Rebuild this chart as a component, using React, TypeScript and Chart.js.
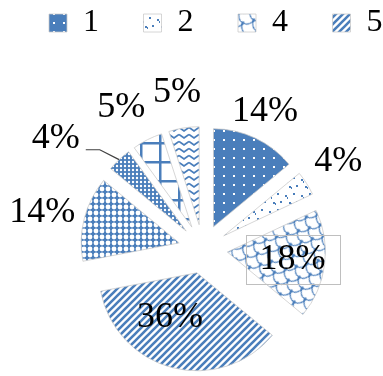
import React, { useEffect, useRef } from 'react';
import { Chart, registerables } from 'chart.js';

Chart.register(...registerables);

// ---- data ----
const categories = ['1', '2', '4', '5', '6', '7', '8', '9'];
const shares = [14, 4, 18, 36, 14, 4, 5, 5];
const legendShown = 4; // only the first four entries are visible in the reference

// ---- style ----
const BLUE = '#4a7ebb';
const FONT = '"Liberation Serif", "Times New Roman", serif';
const EXPLODE = 24.6;
const RADIUS = 98;
const labelRadius = [1.29, 1.39, 0.67, 0.53, 1.43, 1.63, 1.42, 1.37];
const labelTurn = [-1.2, -0.5, -0.3, 16.9, -2.1, -11.5, -3.5, -0.5];
const boxedLabel = 2;
const leaderLabel = 5;

function tile(w: number, h: number, draw: (c: CanvasRenderingContext2D) => void) {
  const cv = document.createElement('canvas');
  cv.width = w;
  cv.height = h;
  const c = cv.getContext('2d') as CanvasRenderingContext2D;
  draw(c);
  return cv;
}

function makePatterns(ctx: CanvasRenderingContext2D): (CanvasPattern | string)[] {
  const pat = (cv: HTMLCanvasElement, rot = 0) => {
    const p = ctx.createPattern(cv, 'repeat') as CanvasPattern;
    if (rot) p.setTransform(new DOMMatrix().rotate(rot));
    return p;
  };
  const p1 = pat(tile(10, 9, (c) => {
    c.fillStyle = BLUE; c.fillRect(0, 0, 10, 9);
    c.fillStyle = '#fff'; c.fillRect(4, 4, 2, 2);
  }));
  const p2 = pat(tile(16, 16, (c) => {
    c.fillStyle = '#fff'; c.fillRect(0, 0, 16, 16);
    c.fillStyle = BLUE;
    c.fillRect(2, 3, 2, 2); c.fillRect(4, 5, 1, 2);
    c.fillRect(10, 1, 2, 2);
    c.fillRect(6, 10, 2, 2); c.fillRect(8, 11, 1, 2);
    c.fillRect(13, 9, 2, 2);
  }));
  const p3 = pat(tile(16, 16, (c) => {
    c.fillStyle = '#fff'; c.fillRect(0, 0, 16, 16);
    c.strokeStyle = BLUE; c.lineWidth = 1.2;
    c.beginPath(); c.arc(8, 0, 8, 0, Math.PI); c.stroke();
    c.beginPath(); c.arc(0, 8, 8, 0, Math.PI); c.stroke();
    c.beginPath(); c.arc(16, 8, 8, 0, Math.PI); c.stroke();
    c.fillStyle = BLUE;
    [[0, 0], [16, 0], [8, 8], [0, 16], [16, 16]].forEach(([x, y]) => {
      c.beginPath(); c.arc(x, y, 1.7, 0, Math.PI * 2); c.fill();
    });
  }), 30);
  const p4 = pat(tile(7, 7, (c) => {
    c.fillStyle = '#fff'; c.fillRect(0, 0, 7, 7);
    c.strokeStyle = BLUE; c.lineWidth = 2.6;
    c.beginPath();
    c.moveTo(-1, 8); c.lineTo(8, -1);
    c.moveTo(-1, 1); c.lineTo(1, -1);
    c.moveTo(6, 8); c.lineTo(8, 6);
    c.stroke();
  }));
  const p5 = pat(tile(6, 6, (c) => {
    c.fillStyle = BLUE; c.fillRect(0, 0, 6, 6);
    c.fillStyle = '#fff'; c.beginPath(); c.arc(3, 3, 2.4, 0, Math.PI * 2); c.fill();
  }));
  const p6 = pat(tile(4, 4, (c) => {
    c.fillStyle = BLUE; c.fillRect(0, 0, 4, 4);
    c.fillStyle = '#fff'; c.beginPath(); c.arc(2, 2, 1.2, 0, Math.PI * 2); c.fill();
  }));
  const p7 = pat(tile(19, 19, (c) => {
    c.fillStyle = '#fff'; c.fillRect(0, 0, 19, 19);
    c.fillStyle = BLUE; c.fillRect(9, 0, 2.5, 19); c.fillRect(0, 9, 19, 2.5);
  }));
  const p8 = pat(tile(10, 7, (c) => {
    c.fillStyle = '#fff'; c.fillRect(0, 0, 10, 7);
    c.strokeStyle = BLUE; c.lineWidth = 1.8;
    c.beginPath(); c.moveTo(0, 1.5); c.lineTo(5, 5); c.lineTo(10, 1.5); c.stroke();
  }));
  return [p1, p2, p3, p4, p5, p6, p7, p8];
}

const explodePlugin = {
  id: 'explode',
  afterDatasetsUpdate(chart: any) {
    const meta = chart.getDatasetMeta(0);
    meta.data.forEach((arc: any) => {
      const mid = (arc.startAngle + arc.endAngle) / 2;
      arc.x += Math.cos(mid) * EXPLODE;
      arc.y += Math.sin(mid) * EXPLODE;
    });
  },
};

const labelPlugin = {
  id: 'sliceLabels',
  afterDatasetsDraw(chart: any) {
    const ctx: CanvasRenderingContext2D = chart.ctx;
    const meta = chart.getDatasetMeta(0);
    const total = shares.reduce((a, b) => a + b, 0);
    ctx.save();
    ctx.font = `36px ${FONT}`;
    ctx.textAlign = 'center';
    ctx.textBaseline = 'middle';
    meta.data.forEach((arc: any, i: number) => {
      const mid = (arc.startAngle + arc.endAngle) / 2;
      const a = mid + (labelTurn[i] * Math.PI) / 180;
      const rr = arc.outerRadius * labelRadius[i];
      const lx = arc.x + Math.cos(a) * rr;
      const ly = arc.y + Math.sin(a) * rr;
      const text = Math.round((shares[i] / total) * 100) + '%';
      const w = ctx.measureText(text).width;
      if (i === boxedLabel) {
        ctx.strokeStyle = '#bfbfbf';
        ctx.lineWidth = 1;
        ctx.strokeRect(Math.round(lx - w / 2 - 14) + 0.5, Math.round(ly - 25) + 0.5, Math.round(w + 28), 49);
      }
      if (i === leaderLabel) {
        const ax = arc.x + Math.cos(mid) * arc.outerRadius;
        const ay = arc.y + Math.sin(mid) * arc.outerRadius;
        const y0 = ly + 11;
        ctx.strokeStyle = '#404040';
        ctx.lineWidth = 1.2;
        ctx.beginPath();
        ctx.moveTo(ax, ay);
        ctx.lineTo(lx + w / 2 + 20, y0);
        ctx.lineTo(lx + w / 2 + 6, y0);
        ctx.stroke();
      }
      ctx.fillStyle = '#000';
      ctx.fillText(text, lx, ly);
    });
    ctx.restore();
  },
};

export default function App() {
  const ref = useRef<HTMLCanvasElement | null>(null);
  useEffect(() => {
    const canvas = ref.current;
    if (!canvas) return;
    const ctx = canvas.getContext('2d') as CanvasRenderingContext2D;
    const fills = makePatterns(ctx);
    Chart.defaults.font.family = FONT;
    Chart.defaults.color = '#000';
    const chart = new Chart(canvas, {
      type: 'pie',
      data: {
        labels: categories,
        datasets: [
          {
            data: shares,
            backgroundColor: fills as any,
            borderColor: '#c8c8c8',
            borderWidth: 0.75,
            radius: RADIUS,
          } as any,
        ],
      },
      options: {
        responsive: false,
        animation: false,
        layout: { padding: { left: 0, right: 0, top: -37.5, bottom: 0 } },
        plugins: {
          tooltip: { enabled: false },
          legend: {
            position: 'top',
            align: 'end',
            labels: {
              font: { size: 32, family: FONT },
              boxWidth: 18,
              boxHeight: 18,
              padding: 44.5,
              color: '#000',
              filter: (item: any) => item.index < legendShown,
            },
          },
        },
      },
      plugins: [explodePlugin, labelPlugin],
    });
    return () => chart.destroy();
  }, []);
  return (
    <div style={{ position: 'absolute', left: 0, top: 0, width: 383, height: 376, overflow: 'hidden', background: '#fff' }}>
      <canvas ref={ref} width={448} height={449} style={{ display: 'block', position: 'absolute', left: -21, top: 0 }} />
    </div>
  );
}
